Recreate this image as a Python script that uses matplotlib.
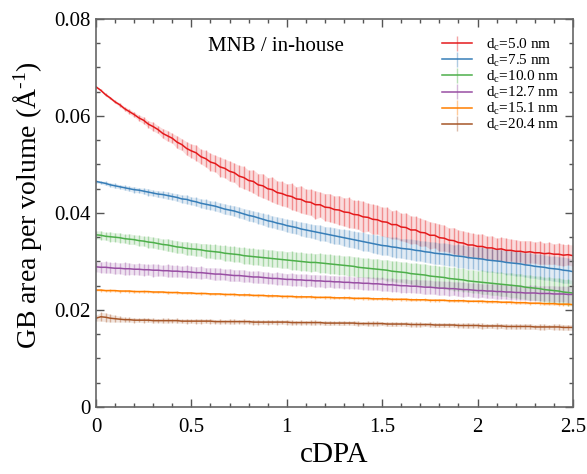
import numpy as np
import matplotlib
matplotlib.use("Agg")
import matplotlib.pyplot as plt
from matplotlib.ticker import MultipleLocator, FuncFormatter
from matplotlib.colors import to_rgba

plt.rcParams['font.family'] = ['Liberation Serif', 'DejaVu Serif']
plt.rcParams['mathtext.fontset'] = 'custom'
plt.rcParams['mathtext.rm'] = 'Liberation Serif'
plt.rcParams['mathtext.it'] = 'Liberation Serif:italic'

# cDPA sampling grid (step 0.025)
cdpa = np.round(np.arange(101) * 0.025, 3)

labels = ['5.0', '7.5', '10.0', '12.7', '15.1', '20.4']
colors = ['#e41a1c', '#377eb8', '#4daf4a', '#984ea3', '#ff7f00', '#a65628']

# GB area per volume, in units of 1e-3 1/A
gb_5_0 = [66.0, 65.3, 64.4, 63.7, 62.9, 62.3, 61.5, 60.9, 60.3, 59.6,
          59.1, 58.3, 57.8, 57.2, 56.4, 55.9, 55.4, 54.6, 54.1, 53.3,
          52.8, 52.4, 51.6, 51.2, 50.5, 50.2, 49.5, 49.2, 48.6, 48.3,
          47.6, 47.3, 46.7, 46.5, 45.8, 45.6, 45.0, 44.8, 44.2, 44.0,
          43.6, 43.4, 42.9, 42.8, 42.3, 42.2, 41.7, 41.7, 41.2, 41.1,
          40.7, 40.6, 40.2, 40.1, 39.7, 39.6, 39.2, 39.1, 38.7, 38.6,
          38.2, 38.1, 37.6, 37.6, 37.1, 37.0, 36.5, 36.5, 36.0, 35.9,
          35.4, 35.4, 34.9, 34.8, 34.4, 34.3, 33.9, 33.8, 33.4, 33.4,
          33.1, 33.1, 32.8, 32.8, 32.5, 32.6, 32.3, 32.3, 32.1, 32.1,
          31.9, 32.0, 31.8, 31.8, 31.6, 31.7, 31.5, 31.5, 31.3, 31.4,
          31.2]
err_5_0 = [0.2, 0.2, 0.3, 0.3, 0.3, 0.4, 0.4, 0.5, 0.5, 0.6,
           0.7, 0.7, 0.9, 0.8, 1.0, 1.1, 1.0, 1.3, 1.2, 1.4,
           1.4, 1.6, 1.5, 1.7, 1.8, 1.7, 2.0, 1.9, 2.1, 2.0,
           2.2, 2.3, 2.1, 2.4, 2.3, 2.5, 2.3, 2.6, 2.4, 2.5,
           2.4, 2.7, 2.5, 2.8, 2.6, 2.7, 2.9, 2.6, 2.8, 2.9,
           2.8, 3.0, 2.9, 3.1, 2.9, 3.0, 3.2, 2.9, 3.1, 3.0,
           3.0, 3.1, 2.9, 3.0, 2.8, 3.0, 2.9, 2.8, 2.9, 2.7,
           2.8, 2.6, 2.8, 2.7, 2.5, 2.7, 2.6, 2.5, 2.6, 2.4,
           2.5, 2.6, 2.4, 2.5, 2.3, 2.4, 2.5, 2.3, 2.4, 2.2,
           2.4, 2.3, 2.2, 2.4, 2.2, 2.3, 2.1, 2.3, 2.2, 2.1,
           2.2]

gb_7_5 = [46.5, 46.3, 46.1, 45.8, 45.6, 45.4, 45.2, 45.0, 44.8, 44.7,
          44.5, 44.3, 44.1, 43.9, 43.8, 43.6, 43.4, 43.2, 42.9, 42.8,
          42.5, 42.3, 42.0, 41.8, 41.6, 41.4, 41.1, 40.8, 40.6, 40.4,
          40.1, 39.8, 39.5, 39.3, 39.0, 38.7, 38.4, 38.2, 37.9, 37.7,
          37.4, 37.2, 37.0, 36.7, 36.5, 36.3, 36.1, 35.9, 35.7, 35.5,
          35.3, 35.1, 34.9, 34.7, 34.5, 34.3, 34.1, 33.9, 33.7, 33.5,
          33.3, 33.2, 33.0, 32.9, 32.7, 32.6, 32.5, 32.3, 32.2, 32.0,
          31.9, 31.7, 31.6, 31.5, 31.4, 31.2, 31.1, 31.0, 30.8, 30.7,
          30.6, 30.5, 30.3, 30.2, 30.1, 30.0, 29.8, 29.7, 29.6, 29.5,
          29.3, 29.2, 29.0, 28.9, 28.8, 28.6, 28.5, 28.4, 28.2, 28.1,
          27.9]
err_7_5 = [0.3, 0.3, 0.4, 0.4, 0.5, 0.4, 0.5, 0.5, 0.6, 0.5,
           0.6, 0.7, 0.6, 0.7, 0.7, 0.8, 0.7, 0.8, 0.8, 0.9,
           0.8, 0.9, 0.9, 1.0, 0.9, 1.0, 1.0, 1.1, 1.0, 1.1,
           1.1, 1.1, 1.2, 1.1, 1.2, 1.2, 1.3, 1.2, 1.3, 1.3,
           1.3, 1.4, 1.3, 1.4, 1.5, 1.4, 1.5, 1.6, 1.5, 1.6,
           1.7, 1.6, 1.7, 1.8, 1.7, 1.8, 1.9, 1.8, 1.9, 1.9,
           2.0, 1.9, 2.0, 2.1, 2.0, 2.1, 2.1, 2.2, 2.1, 2.2,
           2.2, 2.3, 2.2, 2.3, 2.3, 2.2, 2.4, 2.3, 2.4, 2.3,
           2.4, 2.4, 2.5, 2.4, 2.5, 2.4, 2.5, 2.5, 2.6, 2.5,
           2.5, 2.6, 2.5, 2.6, 2.6, 2.5, 2.6, 2.6, 2.7, 2.6,
           2.6]

gb_10_0 = [35.5, 35.4, 35.2, 35.1, 35.0, 34.9, 34.7, 34.6, 34.5, 34.3,
           34.2, 34.0, 33.9, 33.7, 33.5, 33.4, 33.2, 33.0, 32.9, 32.7,
           32.6, 32.5, 32.4, 32.2, 32.1, 32.0, 31.9, 31.7, 31.6, 31.5,
           31.4, 31.2, 31.1, 31.0, 30.9, 30.8, 30.7, 30.6, 30.5, 30.4,
           30.3, 30.2, 30.1, 30.0, 29.9, 29.8, 29.8, 29.7, 29.6, 29.5,
           29.4, 29.3, 29.2, 29.1, 29.0, 28.8, 28.7, 28.6, 28.5, 28.4,
           28.3, 28.2, 28.0, 27.9, 27.8, 27.7, 27.5, 27.4, 27.3, 27.2,
           27.0, 26.9, 26.8, 26.7, 26.5, 26.4, 26.3, 26.2, 26.0, 25.9,
           25.8, 25.7, 25.6, 25.5, 25.4, 25.3, 25.2, 25.1, 25.0, 24.9,
           24.7, 24.6, 24.5, 24.4, 24.2, 24.1, 24.0, 23.9, 23.7, 23.6,
           23.5]
err_10_0 = [0.8, 0.9, 0.8, 1.0, 0.9, 1.0, 0.9, 1.1, 1.0, 1.1,
            1.0, 1.2, 1.1, 1.2, 1.1, 1.3, 1.2, 1.3, 1.2, 1.4,
            1.3, 1.4, 1.3, 1.5, 1.4, 1.5, 1.4, 1.6, 1.5, 1.6,
            1.5, 1.7, 1.6, 1.7, 1.6, 1.8, 1.7, 1.8, 1.7, 1.8,
            1.7, 1.9, 1.8, 1.9, 1.8, 1.9, 1.8, 2.0, 1.9, 2.0,
            1.9, 2.0, 1.9, 2.1, 2.0, 2.1, 2.0, 2.1, 2.0, 2.2,
            2.0, 2.2, 2.1, 2.2, 2.1, 2.2, 2.1, 2.3, 2.2, 2.3,
            2.2, 2.3, 2.2, 2.4, 2.3, 2.4, 2.3, 2.4, 2.3, 2.4,
            2.3, 2.5, 2.4, 2.5, 2.4, 2.5, 2.4, 2.6, 2.5, 2.6,
            2.5, 2.6, 2.5, 2.6, 2.5, 2.7, 2.6, 2.7, 2.6, 2.7,
            2.6]

gb_12_7 = [28.9, 28.8, 28.8, 28.7, 28.6, 28.6, 28.5, 28.5, 28.4, 28.4,
           28.3, 28.3, 28.2, 28.2, 28.1, 28.1, 28.0, 28.0, 27.9, 27.9,
           27.8, 27.7, 27.7, 27.6, 27.5, 27.4, 27.4, 27.3, 27.2, 27.1,
           27.1, 27.0, 26.9, 26.8, 26.8, 26.7, 26.6, 26.5, 26.5, 26.4,
           26.3, 26.3, 26.2, 26.2, 26.1, 26.1, 26.0, 26.0, 25.9, 25.9,
           25.8, 25.8, 25.7, 25.7, 25.6, 25.6, 25.5, 25.5, 25.4, 25.4,
           25.3, 25.2, 25.2, 25.1, 25.0, 25.0, 24.9, 24.9, 24.8, 24.7,
           24.7, 24.6, 24.5, 24.5, 24.4, 24.4, 24.3, 24.2, 24.2, 24.1,
           24.0, 24.0, 23.9, 23.9, 23.8, 23.8, 23.7, 23.7, 23.6, 23.6,
           23.5, 23.5, 23.5, 23.4, 23.4, 23.4, 23.3, 23.3, 23.3, 23.2,
           23.2]
err_12_7 = [1.0, 1.1, 1.2, 1.1, 1.2, 1.1, 1.3, 1.2, 1.1, 1.2,
            1.2, 1.1, 1.3, 1.2, 1.1, 1.3, 1.2, 1.2, 1.1, 1.3,
            1.2, 1.2, 1.3, 1.1, 1.2, 1.3, 1.2, 1.1, 1.3, 1.2,
            1.2, 1.3, 1.1, 1.2, 1.3, 1.2, 1.2, 1.1, 1.3, 1.2,
            1.2, 1.3, 1.2, 1.2, 1.3, 1.2, 1.3, 1.2, 1.3, 1.2,
            1.3, 1.2, 1.3, 1.3, 1.2, 1.3, 1.3, 1.4, 1.3, 1.3,
            1.4, 1.3, 1.4, 1.3, 1.4, 1.4, 1.3, 1.4, 1.4, 1.5,
            1.4, 1.4, 1.5, 1.4, 1.5, 1.4, 1.5, 1.5, 1.4, 1.5,
            1.5, 1.4, 1.5, 1.5, 1.6, 1.5, 1.5, 1.6, 1.5, 1.6,
            1.5, 1.6, 1.6, 1.5, 1.6, 1.6, 1.7, 1.6, 1.6, 1.7,
            1.6]

gb_15_1 = [24.1, 24.1, 24.0, 24.0, 24.0, 23.9, 23.9, 23.9, 23.8, 23.8,
           23.8, 23.8, 23.7, 23.7, 23.7, 23.6, 23.6, 23.6, 23.5, 23.5,
           23.5, 23.4, 23.4, 23.4, 23.3, 23.3, 23.3, 23.2, 23.2, 23.2,
           23.1, 23.1, 23.1, 23.0, 23.0, 23.0, 22.9, 22.9, 22.9, 22.8,
           22.8, 22.8, 22.7, 22.7, 22.7, 22.7, 22.6, 22.6, 22.6, 22.6,
           22.5, 22.5, 22.5, 22.5, 22.4, 22.4, 22.4, 22.4, 22.3, 22.3,
           22.3, 22.3, 22.2, 22.2, 22.2, 22.2, 22.1, 22.1, 22.1, 22.1,
           22.0, 22.0, 22.0, 22.0, 21.9, 21.9, 21.9, 21.9, 21.8, 21.8,
           21.8, 21.8, 21.7, 21.7, 21.7, 21.6, 21.6, 21.6, 21.5, 21.5,
           21.5, 21.4, 21.4, 21.4, 21.3, 21.3, 21.3, 21.2, 21.2, 21.2,
           21.1]
err_15_1 = [0.2, 0.3, 0.2, 0.3, 0.2, 0.3, 0.2, 0.3, 0.3, 0.2,
            0.3, 0.2, 0.3, 0.3, 0.2, 0.3, 0.2, 0.3, 0.2, 0.3,
            0.3, 0.2, 0.3, 0.2, 0.3, 0.3, 0.2, 0.3, 0.2, 0.3,
            0.2, 0.3, 0.3, 0.2, 0.3, 0.2, 0.3, 0.3, 0.2, 0.3,
            0.3, 0.2, 0.3, 0.3, 0.2, 0.3, 0.3, 0.2, 0.3, 0.3,
            0.3, 0.2, 0.3, 0.3, 0.3, 0.2, 0.3, 0.3, 0.3, 0.2,
            0.3, 0.3, 0.3, 0.2, 0.3, 0.3, 0.3, 0.3, 0.2, 0.3,
            0.3, 0.3, 0.3, 0.2, 0.3, 0.3, 0.3, 0.3, 0.3, 0.2,
            0.3, 0.3, 0.3, 0.3, 0.3, 0.2, 0.3, 0.3, 0.3, 0.3,
            0.3, 0.3, 0.2, 0.3, 0.3, 0.3, 0.3, 0.3, 0.3, 0.3,
            0.3]

gb_20_4 = [18.3, 18.6, 18.5, 18.3, 18.2, 18.1, 18.0, 18.0, 17.9, 17.9,
           17.9, 17.9, 17.8, 17.8, 17.8, 17.8, 17.8, 17.8, 17.7, 17.7,
           17.7, 17.7, 17.7, 17.7, 17.7, 17.6, 17.6, 17.6, 17.6, 17.6,
           17.6, 17.6, 17.6, 17.5, 17.5, 17.5, 17.5, 17.5, 17.5, 17.5,
           17.5, 17.4, 17.4, 17.4, 17.4, 17.4, 17.4, 17.4, 17.3, 17.3,
           17.3, 17.3, 17.3, 17.3, 17.3, 17.2, 17.2, 17.2, 17.2, 17.2,
           17.2, 17.1, 17.1, 17.1, 17.1, 17.1, 17.0, 17.0, 17.0, 17.0,
           17.0, 16.9, 16.9, 16.9, 16.9, 16.9, 16.8, 16.8, 16.8, 16.8,
           16.8, 16.7, 16.7, 16.7, 16.7, 16.7, 16.6, 16.6, 16.6, 16.6,
           16.6, 16.6, 16.5, 16.5, 16.5, 16.5, 16.5, 16.5, 16.4, 16.4,
           16.4]
err_20_4 = [0.6, 0.9, 0.9, 0.8, 0.7, 0.6, 0.5, 0.5, 0.5, 0.4,
            0.5, 0.4, 0.5, 0.4, 0.5, 0.5, 0.4, 0.5, 0.4, 0.5,
            0.4, 0.5, 0.5, 0.4, 0.5, 0.4, 0.5, 0.4, 0.5, 0.5,
            0.4, 0.5, 0.4, 0.5, 0.5, 0.4, 0.5, 0.4, 0.5, 0.4,
            0.5, 0.5, 0.4, 0.5, 0.4, 0.5, 0.5, 0.4, 0.5, 0.5,
            0.4, 0.5, 0.5, 0.4, 0.5, 0.5, 0.4, 0.5, 0.5, 0.5,
            0.4, 0.5, 0.5, 0.5, 0.4, 0.5, 0.5, 0.5, 0.5, 0.4,
            0.5, 0.5, 0.5, 0.5, 0.5, 0.4, 0.5, 0.5, 0.6, 0.5,
            0.5, 0.6, 0.5, 0.5, 0.6, 0.5, 0.6, 0.5, 0.6, 0.5,
            0.6, 0.6, 0.5, 0.6, 0.6, 0.5, 0.6, 0.6, 0.6, 0.6,
            0.6]

series = [gb_5_0, gb_7_5, gb_10_0, gb_12_7, gb_15_1, gb_20_4]
errors = [err_5_0, err_7_5, err_10_0, err_12_7, err_15_1, err_20_4]

fig = plt.figure(figsize=(5.87, 4.74), dpi=100)
ax = fig.add_axes([0.1635, 0.1414, 0.8125, 0.8186])

for vals, errs, lab, c in zip(series, errors, labels, colors):
    y = np.array(vals) / 1000.0
    e = np.array(errs) / 1000.0
    ax.fill_between(cdpa, y - e, y + e, color=c, alpha=0.15, lw=0)
    ax.errorbar(cdpa, y, yerr=e, color=c, lw=1.1, elinewidth=1.0,
                ecolor=to_rgba(c, 0.4), capsize=0,
                label=r'd$_{\mathrm{c}}$=' + lab + ' nm')

ax.set_xlim(0, 2.5)
ax.set_ylim(0, 0.08)
ax.xaxis.set_major_locator(MultipleLocator(0.5))
ax.xaxis.set_minor_locator(MultipleLocator(0.1))
ax.yaxis.set_major_locator(MultipleLocator(0.02))
ax.yaxis.set_minor_locator(MultipleLocator(0.005))
fmt = FuncFormatter(lambda v, p: '%g' % round(v, 4))
ax.xaxis.set_major_formatter(fmt)
ax.yaxis.set_major_formatter(fmt)
ax.tick_params(which='both', direction='in', top=True, right=True,
               colors='#555555', labelcolor='black', labelsize=15)
ax.tick_params(which='major', length=6, width=1)
ax.tick_params(which='minor', length=3, width=1)
ax.tick_params(axis='x', pad=8)
for s in ax.spines.values():
    s.set_color('#666666')
    s.set_linewidth(1.2)

ax.set_xlabel('cDPA', fontsize=21, va='center')
ax.xaxis.set_label_coords(0.5, -0.124)
ax.set_ylabel(r'GB area per volume (Å$^{\text{-}1}$)', fontsize=20, va='center')
ax.yaxis.set_label_coords(-0.143, 0.52)

ax.text(0.585, 0.0743, 'MNB / in-house', fontsize=15, va='center')

ax.legend(loc='upper right', bbox_to_anchor=(1.0, 0.99), frameon=False,
          fontsize=11, handlelength=2.0, labelspacing=0.0,
          handletextpad=0.9)

fig.savefig('out.png', dpi=100)
